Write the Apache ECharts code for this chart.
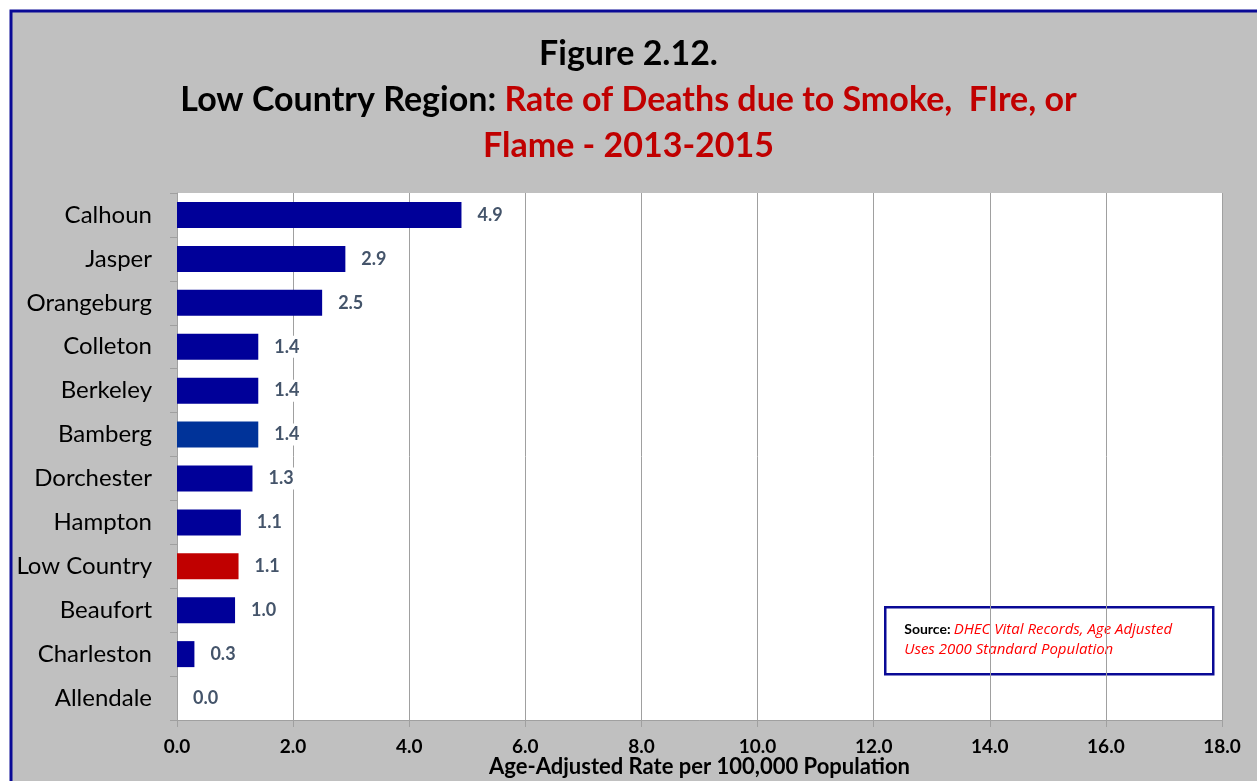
<!DOCTYPE html>
<html>
<head>
<meta charset="utf-8">
<script src="https://cdn.jsdelivr.net/npm/echarts@6/dist/echarts.min.js"></script>
<style>
  html, body { margin: 0; padding: 0; background: #fff; }
  #chart { width: 1257px; height: 781px; }
</style>
</head>
<body>
<div id="chart"></div>
<script>
  // counties, top to bottom
  var counties = ['Calhoun', 'Jasper', 'Orangeburg', 'Colleton', 'Berkeley', 'Bamberg',
    'Dorchester', 'Hampton', 'Low Country', 'Beaufort', 'Charleston', 'Allendale'];
  var rates = [4.9, 2.9, 2.5, 1.4, 1.4, 1.4, 1.3, 1.1, 1.06, 1.0, 0.3, 0.0];
  var barColors = ['#000099', '#000099', '#000099', '#000099', '#000099', '#003399',
    '#000099', '#000099', '#C00000', '#000099', '#000099', '#000099'];
  var xTicks = [0, 2, 4, 6, 8, 10, 12, 14, 16, 18];

  var myChart = echarts.init(document.getElementById('chart'));
  var font = 'Lato, "Open Sans", sans-serif';

  var option = {
    backgroundColor: '#fff',
    animation: false,
    textStyle: { fontFamily: font },
    graphic: [
      {
        type: 'rect', z: -10,
        shape: { x: 11, y: 11, width: 1300, height: 820 },
        style: { fill: '#C0C0C0', stroke: '#0A0A96', lineWidth: 3 }
      },
      {
        type: 'group', left: 884, top: 606, z: 100,
        children: [
          { type: 'rect', shape: { x: 0, y: 0, width: 328, height: 67 },
            style: { fill: '#fff', stroke: '#0A0A96', lineWidth: 2.5 } },
          { type: 'text', left: 19, top: 12,
            style: { text: '{b|Source:} {r|DHEC Vital Records, Age Adjusted}\n{r|Uses 2000 Standard Population}',
              fontFamily: font, lineHeight: 20,
              rich: {
                b: { fontWeight: 'bold', fontSize: 14, fill: '#000', fontFamily: font },
                r: { fontStyle: 'italic', fontSize: 15, fill: '#FF0000', fontFamily: '"Open Sans", sans-serif' }
              } } }
        ]
      }
    ],
    title: {
      text: '{k|Figure 2.12.}\n{k|Low Country Region: }{r|Rate of Deaths due to Smoke,  FIre, or}\n{r|Flame - 2013-2015}',
      left: 'center',
      top: 26,
      textStyle: {
        fontFamily: font,
        rich: {
          k: { fontSize: 34, fontWeight: 'bold', color: '#000', lineHeight: 46, fontFamily: font },
          r: { fontSize: 34, fontWeight: 'bold', color: '#C00000', lineHeight: 46, fontFamily: font }
        }
      }
    },
    grid: {
      left: 177, right: 35, top: 193, bottom: 61,
      outerBoundsMode: 'none', containLabel: false,
      backgroundColor: '#fff', show: true, borderWidth: 0
    },
    xAxis: {
      type: 'value',
      min: 0, max: 18, interval: 2,
      name: 'Age-Adjusted Rate per 100,000 Population',
      nameLocation: 'middle',
      nameGap: 36,
      nameMoveOverlap: false,
      nameTextStyle: { fontSize: 22, fontWeight: 'bold', color: '#000', fontFamily: font },
      axisLine: { show: true, lineStyle: { color: '#A0A0A0', width: 1 } },
      axisTick: { show: true, length: 7, lineStyle: { color: '#A0A0A0' } },
      axisLabel: {
        fontSize: 19, fontWeight: 'bold', color: '#000', margin: 17,
        formatter: function (v) { return xTicks.indexOf(v) >= 0 ? v.toFixed(1) : ''; }
      },
      splitLine: { show: true, lineStyle: { color: '#A0A0A0', width: 1 } }
    },
    yAxis: {
      type: 'category',
      inverse: true,
      data: counties,
      axisLine: { show: true, lineStyle: { color: '#A0A0A0' } },
      axisTick: { show: true, length: 7, lineStyle: { color: '#A0A0A0' } },
      axisLabel: { fontSize: 24, color: '#000', margin: 25, fontFamily: font }
    },
    series: [{
      type: 'bar',
      data: rates.map(function (v, i) {
        return { value: v, itemStyle: { color: barColors[i] } };
      }),
      barWidth: 26,
      z: 5,
      label: {
        show: true,
        position: 'right',
        distance: 10,
        fontSize: 18,
        fontWeight: 'bold',
        color: '#44546A',
        backgroundColor: '#fff',
        padding: [2, 6],
        fontFamily: font,
        formatter: function (p) { return p.value.toFixed(1); }
      }
    }]
  };

  myChart.setOption(option);
</script>
</body>
</html>
